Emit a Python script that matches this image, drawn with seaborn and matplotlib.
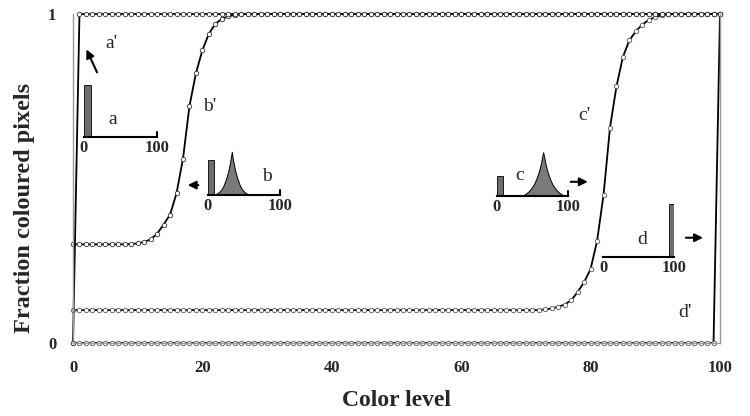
import matplotlib
matplotlib.use('Agg')
import matplotlib.pyplot as plt
import seaborn as sns

# Color level (x) and fraction of coloured pixels for each curve
levels = list(range(101))

a_prime = [0.0, 1.0, 1.0, 1.0, 1.0, 1.0, 1.0, 1.0, 1.0, 1.0,
           1.0, 1.0, 1.0, 1.0, 1.0, 1.0, 1.0, 1.0, 1.0, 1.0,
           1.0, 1.0, 1.0, 1.0, 1.0, 1.0, 1.0, 1.0, 1.0, 1.0,
           1.0, 1.0, 1.0, 1.0, 1.0, 1.0, 1.0, 1.0, 1.0, 1.0,
           1.0, 1.0, 1.0, 1.0, 1.0, 1.0, 1.0, 1.0, 1.0, 1.0,
           1.0, 1.0, 1.0, 1.0, 1.0, 1.0, 1.0, 1.0, 1.0, 1.0,
           1.0, 1.0, 1.0, 1.0, 1.0, 1.0, 1.0, 1.0, 1.0, 1.0,
           1.0, 1.0, 1.0, 1.0, 1.0, 1.0, 1.0, 1.0, 1.0, 1.0,
           1.0, 1.0, 1.0, 1.0, 1.0, 1.0, 1.0, 1.0, 1.0, 1.0,
           1.0, 1.0, 1.0, 1.0, 1.0, 1.0, 1.0, 1.0, 1.0, 1.0,
           1.0]

b_prime = [0.30, 0.30, 0.30, 0.30, 0.30, 0.30, 0.30, 0.30, 0.30, 0.301,
           0.303, 0.307, 0.315, 0.332, 0.36, 0.39, 0.455, 0.56, 0.72, 0.82,
           0.89, 0.94, 0.97, 0.985, 0.993, 0.997, 0.999, 1.0, 1.0, 1.0,
           1.0, 1.0, 1.0, 1.0, 1.0, 1.0, 1.0, 1.0, 1.0, 1.0,
           1.0, 1.0, 1.0, 1.0, 1.0, 1.0, 1.0, 1.0, 1.0, 1.0,
           1.0, 1.0, 1.0, 1.0, 1.0, 1.0, 1.0, 1.0, 1.0, 1.0,
           1.0, 1.0, 1.0, 1.0, 1.0, 1.0, 1.0, 1.0, 1.0, 1.0,
           1.0, 1.0, 1.0, 1.0, 1.0, 1.0, 1.0, 1.0, 1.0, 1.0,
           1.0, 1.0, 1.0, 1.0, 1.0, 1.0, 1.0, 1.0, 1.0, 1.0,
           1.0, 1.0, 1.0, 1.0, 1.0, 1.0, 1.0, 1.0, 1.0, 1.0,
           1.0]

c_prime = [0.10, 0.10, 0.10, 0.10, 0.10, 0.10, 0.10, 0.10, 0.10, 0.10,
           0.10, 0.10, 0.10, 0.10, 0.10, 0.10, 0.10, 0.10, 0.10, 0.10,
           0.10, 0.10, 0.10, 0.10, 0.10, 0.10, 0.10, 0.10, 0.10, 0.10,
           0.10, 0.10, 0.10, 0.10, 0.10, 0.10, 0.10, 0.10, 0.10, 0.10,
           0.10, 0.10, 0.10, 0.10, 0.10, 0.10, 0.10, 0.10, 0.10, 0.10,
           0.10, 0.10, 0.10, 0.10, 0.10, 0.10, 0.10, 0.10, 0.10, 0.10,
           0.10, 0.10, 0.10, 0.10, 0.10, 0.10, 0.10, 0.10, 0.10, 0.10,
           0.10, 0.10, 0.10, 0.102, 0.105, 0.11, 0.117, 0.13, 0.155, 0.185,
           0.225, 0.31, 0.45, 0.655, 0.78, 0.87, 0.92, 0.948, 0.968, 0.982,
           0.991, 0.996, 0.999, 1.0, 1.0, 1.0, 1.0, 1.0, 1.0, 1.0,
           1.0]

d_prime = [0.0, 0.0, 0.0, 0.0, 0.0, 0.0, 0.0, 0.0, 0.0, 0.0,
           0.0, 0.0, 0.0, 0.0, 0.0, 0.0, 0.0, 0.0, 0.0, 0.0,
           0.0, 0.0, 0.0, 0.0, 0.0, 0.0, 0.0, 0.0, 0.0, 0.0,
           0.0, 0.0, 0.0, 0.0, 0.0, 0.0, 0.0, 0.0, 0.0, 0.0,
           0.0, 0.0, 0.0, 0.0, 0.0, 0.0, 0.0, 0.0, 0.0, 0.0,
           0.0, 0.0, 0.0, 0.0, 0.0, 0.0, 0.0, 0.0, 0.0, 0.0,
           0.0, 0.0, 0.0, 0.0, 0.0, 0.0, 0.0, 0.0, 0.0, 0.0,
           0.0, 0.0, 0.0, 0.0, 0.0, 0.0, 0.0, 0.0, 0.0, 0.0,
           0.0, 0.0, 0.0, 0.0, 0.0, 0.0, 0.0, 0.0, 0.0, 0.0,
           0.0, 0.0, 0.0, 0.0, 0.0, 0.0, 0.0, 0.0, 0.0, 0.0,
           1.0]

x_ticks = [0, 20, 40, 60, 80, 100]
y_ticks = [0, 1]

# small histogram sketches (inset a-d)
a_bar_pos, a_bar_h = [0], [0.98]
b_bar_pos, b_bar_h = [0], [0.66]
c_bar_pos, c_bar_h = [0], [0.38]
d_bar_pos, d_bar_h = [93], [1.0]

b_peak_x = [6, 11, 15, 19, 22, 25, 27, 29, 30, 31, 32, 33, 34, 35, 36, 37, 39, 41, 44, 47, 51, 55, 60]
b_peak_y = [0.0, 0.02, 0.05, 0.11, 0.19, 0.30, 0.39, 0.50, 0.57, 0.64, 0.72, 0.81,
            0.72, 0.64, 0.57, 0.50, 0.39, 0.30, 0.19, 0.11, 0.05, 0.02, 0.0]
c_peak_x = [34, 39, 44, 48, 52, 55, 58, 60, 62, 63.5, 65, 66.5, 68, 70, 72, 75, 78, 82, 86, 91, 96]
c_peak_y = [0.0, 0.03, 0.08, 0.14, 0.22, 0.31, 0.42, 0.51, 0.62, 0.73, 0.82,
            0.73, 0.62, 0.51, 0.42, 0.31, 0.22, 0.14, 0.08, 0.03, 0.0]

sns.set_theme(style='white')
plt.rcParams['font.family'] = ['Liberation Serif', 'DejaVu Serif']

fig = plt.figure(figsize=(7.5, 4.16), dpi=100)
W, H = 750, 416
ax = fig.add_axes([73 / W, 1 - 343 / H, 647 / W, 329 / H])

line_kw = dict(color='black', linewidth=1.3, marker='o', markersize=3.2,
               markerfacecolor='white', markeredgewidth=0.6, clip_on=False)
sns.lineplot(x=levels, y=d_prime, ax=ax, markeredgecolor='#555555', **line_kw)
sns.lineplot(x=levels, y=c_prime, ax=ax, markeredgecolor='#555555', **line_kw)
sns.lineplot(x=levels, y=b_prime, ax=ax, markeredgecolor='#333333', **line_kw)
sns.lineplot(x=levels, y=a_prime, ax=ax, markeredgecolor='#333333', **line_kw)

ax.set_xlim(0, 100)
ax.set_ylim(0, 1)
ax.set_xticks(x_ticks)
ax.set_yticks(y_ticks)
ax.set_xticklabels([str(t) for t in x_ticks], fontsize=12, fontweight='bold')
ax.set_yticklabels([str(t) for t in y_ticks], fontsize=12, fontweight='bold')
ax.tick_params(axis='both', direction='out', length=4, width=0.8, color='#999999', pad=8)
for side in ['left', 'right', 'bottom']:
    ax.spines[side].set_color('#999999')
    ax.spines[side].set_linewidth(1.0)
ax.spines['top'].set_visible(False)
ax.set_xlabel('Color level', fontsize=17, fontweight='bold', labelpad=10)
ax.set_ylabel('Fraction coloured pixels', fontsize=17.5, fontweight='bold')
ax.yaxis.set_label_coords(-0.058, 0.41)

# curve labels
lab_kw = dict(fontsize=14, ha='center', va='center')
ax.text(6.0, 0.91, "a'", **lab_kw)
ax.text(21.2, 0.72, "b'", **lab_kw)
ax.text(79.1, 0.69, "c'", **lab_kw)
ax.text(94.6, 0.094, "d'", **lab_kw)
ax.text(6.2, 0.68, 'a', **lab_kw)
ax.text(30.0, 0.505, 'b', **lab_kw)
ax.text(69.1, 0.508, 'c', **lab_kw)
ax.text(87.9, 0.316, 'd', **lab_kw)

arrow = dict(arrowstyle='-|>', color='black', lw=1.5, mutation_scale=12)
ax.annotate('', xy=(1.9, 0.90), xytext=(3.9, 0.815), arrowprops=arrow)
ax.annotate('', xy=(17.3, 0.48), xytext=(19.8, 0.48), arrowprops=arrow)
ax.annotate('', xy=(80.0, 0.49), xytext=(76.5, 0.49), arrowprops=arrow)
ax.annotate('', xy=(97.8, 0.32), xytext=(94.3, 0.32), arrowprops=arrow)


def draw_inset(left, base, width, bar_pos, bar_h, bar_w, peak_x=None, peak_y=None, end_tick=True):
    ins = fig.add_axes([left / W, 1 - base / H, width / W, 56 / H])
    ins.set_facecolor('none')
    ins.bar(bar_pos, bar_h, width=bar_w, align='edge', color='#6e6e6e',
            edgecolor='black', linewidth=0.6)
    if peak_x is not None:
        ins.fill_between(peak_x, peak_y, color='#7a7a7a', edgecolor='black', linewidth=0.7)
    if end_tick:
        ins.axvline(100, ymax=0.09, color='black', lw=1.5, clip_on=False)
    ins.set_xlim(0, 100)
    ins.set_ylim(0, 1.05)
    ins.set_yticks([])
    ins.set_xticks([0, 100])
    ins.set_xticklabels(['0', '100'], fontsize=12, fontweight='bold')
    ins.tick_params(axis='x', length=0, pad=2)
    for side in ['left', 'right', 'top']:
        ins.spines[side].set_visible(False)
    ins.spines['bottom'].set_color('black')
    ins.spines['bottom'].set_linewidth(1.5)
    return ins


draw_inset(84, 137, 73, a_bar_pos, a_bar_h, 10)
draw_inset(208, 195, 72, b_bar_pos, b_bar_h, 9, b_peak_x, b_peak_y)
draw_inset(497, 196, 71, c_bar_pos, c_bar_h, 8, c_peak_x, c_peak_y)
draw_inset(603, 257, 71, d_bar_pos, d_bar_h, 7, end_tick=False)

fig.savefig('out.png', dpi=100)
